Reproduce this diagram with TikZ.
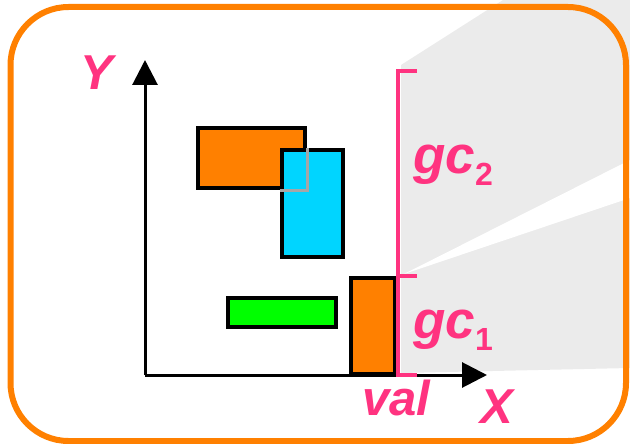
\documentclass[tikz,border=0pt]{standalone}
\usepackage{fontspec}
\setmainfont{Liberation Sans}
\usetikzlibrary{arrows.meta}
\definecolor{hotpink}{RGB}{255,51,128}
\definecolor{boxorange}{RGB}{255,128,0}
\definecolor{boxcyan}{RGB}{0,213,255}
\definecolor{boxgreen}{RGB}{0,255,0}
\definecolor{bggrey}{RGB}{235,235,235}
\newcommand{\subnum}[1]{\raisebox{-12pt}{\fontsize{32}{32}\selectfont\upshape #1}}
\begin{document}
\begin{tikzpicture}[x=1pt, y=-1pt, >={Triangle[length=25pt,width=25pt]},
	box/.style={draw=black, line width=4pt, inner sep=0pt, anchor=north west},
	lbl/.style={text=hotpink, inner sep=0pt, anchor=base west,
		font=\fontsize{49}{49}\selectfont\bfseries\itshape},
	gclbl/.style={lbl, font=\fontsize{53}{53}\selectfont\bfseries\itshape}]
		\useasboundingbox (0,0) rectangle (630,444);
		% grey shade behind the brackets
		\fill[bggrey] (401,65) -- (503,0) -- (630,0) -- (630,368) -- (401,373) -- cycle;
		\fill[white] (404,274) -- (630,160) -- (630,198) -- cycle;
		\draw[boxorange, line width=6pt, rounded corners=58pt] (10.5,7) rectangle (626,441);
		% axes
		\coordinate (o) at (145,375);
		\coordinate (ytip) at (145,60);
		\coordinate (xtip) at (487,375);
		\draw[line width=3pt, ->] (o) -- (ytip);
		\draw[line width=3pt, ->] (o) -- (xtip);
		% rectangles
		\node[box, fill=boxorange, minimum width=107pt, minimum height=60pt] (o1) at (196,126) {};
		\node[box, fill=boxcyan, minimum width=61pt, minimum height=107pt] (cy) at (280,148) {};
		\draw[black!35, line width=3pt] (o1.east |- cy.north) -- (o1.south east) -- (o1.south -| cy.west);
		\node[box, fill=boxgreen, minimum width=108pt, minimum height=29pt] (gr) at (226,296) {};
		\node[box, fill=boxorange, minimum width=44pt, minimum height=96pt] (o2) at (349,276) {};
		% brackets
		\coordinate (bt) at (398,71);
		\coordinate (bm) at (398,276);
		\coordinate (bb) at (398,375);
		\draw[hotpink, line width=4pt] ([xshift=19pt]bt) -- (bt) -- (bb) -- ([xshift=19pt]bb);
		\draw[hotpink, line width=4pt] (bm) -- ([xshift=19pt]bm);
		% labels
		\node[lbl] (ylbl) at (80,90) {Y};
		\node[lbl] (xlbl) at (480,423) {X};
		\node[lbl] (val) at (362,415) {val};
		\node[gclbl] (gc2) at (413,173) {gc\subnum{2}};
		\node[gclbl] (gc1) at (413,338) {gc\subnum{1}};
	\end{tikzpicture}
\end{document}
